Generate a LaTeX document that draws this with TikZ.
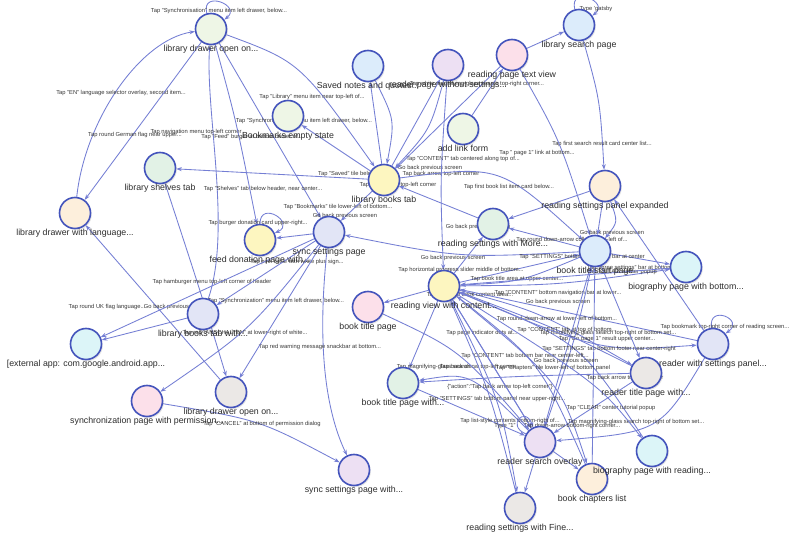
\documentclass[tikz,border=0pt]{standalone}
\usepackage{fontspec}
\setmainfont{Liberation Sans}
\usetikzlibrary{arrows.meta,shadows}
\pgfdeclarelayer{bg}
\pgfsetlayers{bg,main}
\definecolor{ec}{RGB}{116,126,212}
\definecolor{nb}{RGB}{68,84,188}
\definecolor{tc}{RGB}{45,45,45}
\definecolor{lc}{RGB}{55,55,55}
\definecolor{fgreen}{RGB}{238,246,230}
\definecolor{fgreen2}{RGB}{226,242,230}
\definecolor{fblue}{RGB}{220,236,251}
\definecolor{flav}{RGB}{237,224,243}
\definecolor{fpink}{RGB}{252,224,234}
\definecolor{forange}{RGB}{253,239,220}
\definecolor{fyellow}{RGB}{253,246,192}
\definecolor{fperi}{RGB}{226,229,246}
\definecolor{fcyan}{RGB}{220,245,248}
\definecolor{fgray}{RGB}{235,232,230}
\begin{document}
\begin{tikzpicture}[x=1pt,y=-1pt,
  st/.style={circle, draw=nb, line width=1.6pt, minimum size=31pt, inner sep=0pt,
    fill=#1, drop shadow={opacity=0.2,shadow xshift=1.3pt,shadow yshift=-1.6pt},
    label distance=4pt},
  nl/.style={font=\fontsize{8.8}{9.5}\selectfont, text=tc, inner sep=0pt},
  el/.style={font=\fontsize{5.8}{6.5}\selectfont, text=lc, inner sep=0pt},
  conn/.style={draw=ec, line width=0.85pt, -{Stealth[length=5.5pt,width=4pt]}}]
\useasboundingbox (0,0) rectangle (807,546);
% nodes
\node[st=fgreen, label={[nl]below:library drawer open on...}] (n1) at (211,29) {};
\node[st=fblue, label={[nl]below:Saved notes and quotes...}] (n2) at (368,66) {};
\node[st=flav, label={[nl]below:reader page without settings...}] (n3) at (448,65) {};
\node[st=fpink, label={[nl]below:reading page text view}] (n4) at (512,55) {};
\node[st=fblue, label={[nl]below:library search page}] (n5) at (579,25) {};
\node[st=fgreen, label={[nl]below:add link form}] (n6) at (463,129) {};
\node[st=fgreen, label={[nl]below:Bookmarks empty state}] (n7) at (288,116) {};
\node[st=fgreen2, label={[nl]below:library shelves tab}] (n8) at (160,168) {};
\node[st=forange, label={[nl]below:library drawer with language...}] (n9) at (75,213) {};
\node[st=fyellow, label={[nl]below:library books tab}] (n10) at (384,180) {};
\node[st=fyellow, label={[nl]below:feed donation page with...}] (n11) at (260,240) {};
\node[st=fperi, label={[nl]below:sync settings page}] (n12) at (329,232) {};
\node[st=fgreen2, label={[nl]below:reading settings with More...}] (n13) at (493,224) {};
\node[st=forange, label={[nl]below:reading settings panel expanded}] (n14) at (605,186) {};
\node[st=fblue, label={[nl]below:book title start page}] (n15) at (595,251) {};
\node[st=fcyan, label={[nl]below:biography page with bottom...}] (n16) at (686,267) {};
\node[st=fyellow, label={[nl]below:reading view with content...}] (n17) at (444,286) {};
\node[st=fpink, label={[nl]below:book title page}] (n18) at (368,307) {};
\node[st=fperi, label={[nl]below:library books tab with...}] (n19) at (203,314) {};
\node[st=fcyan, label={[nl]below:[external app: com.google.android.app...}] (n20) at (86,344) {};
\node[st=fgray, label={[nl]below:library drawer open on...}] (n21) at (231,392) {};
\node[st=fpink, label={[nl]below:synchronization page with permission...}] (n22) at (147,401) {};
\node[st=flav, label={[nl]below:sync settings page with...}] (n23) at (354,470) {};
\node[st=fgreen2, label={[nl]below:book title page with...}] (n24) at (403,383) {};
\node[st=flav, label={[nl]below:reader search overlay}] (n25) at (540,442) {};
\node[st=forange, label={[nl]below:book chapters list}] (n26) at (592,479) {};
\node[st=fcyan, label={[nl]below:biography page with reading...}] (n27) at (652,451) {};
\node[st=fgray, label={[nl]below:reader title page with...}] (n28) at (646,373) {};
\node[st=fperi, label={[nl]below:reader with settings panel...}] (n29) at (713,344) {};
\node[st=fgray, label={[nl]below:reading settings with Fine...}] (n30) at (520,508) {};
\begin{pgfonlayer}{bg}
\fill[white] (0,0) rectangle (807,546);
% top-left cluster
\draw[conn] (n1.105) .. controls +(-6,-24) and +(18,-14) .. (n1.35);
\node[el] at (219,11) {Tap "Synchronisation" menu item left drawer, below...};
\draw[conn] (n9) .. controls (85,120) and (140,40) .. (n1);
\node[el] at (121,93) {Tap "EN" language selector overlay, second item...};
\draw[conn] (n1) -- (n9);
\node[el] at (135,135) {Tap round German flag near upper...};
\draw[conn] (n19) .. controls (232,230) and (205,110) .. (n1);
\node[el] at (196,132) {Tap navigation menu top-left corner};
\draw[conn] (n1) .. controls (236,120) .. (n11);
\node[el] at (252,137) {Tap "Feed" burger at bottom center of...};
\draw[conn] (n1) .. controls (300,62) .. (n10);
\node[el] at (312,97) {Tap "Library" menu item near top-left of...};
\draw[conn] (n1) -- (n12);
\node[el] at (304,121) {Tap "Synchronisation" menu item left drawer, below...};
\draw[conn] (n10) -- (n8);
\node[el] at (263,189) {Tap "Shelves" tab below header, near center...};
\draw[conn] (n10) -- (n2);
\node[el] at (349,174) {Tap "Saved" tile below...};
\draw[conn] (n10) -- (n7);
\node[el] at (338,207) {Tap "Bookmarks" tile lower-left of bottom...};
\draw[conn] (n10) -- (n12);
\node[el] at (345,216) {Go back previous screen};
\draw[conn] (n11.90) .. controls +(0,-24) and +(22,-10) .. (n11.25);
\node[el] at (258,223) {Tap burger donation card upper-right...};
\draw[conn] (n12) -- (n11);
\node[el] at (297,262) {Tap pink circle with white plus sign...};
\draw[conn] (n8) .. controls (200,290) .. (n21);
\node[el] at (212,282) {Tap hamburger menu top-left corner of header};
\draw[conn] (n21) -- (n9);
\node[el] at (107,307) {Tap round UK flag language...};
\draw[conn] (n19) -- (n20);
\node[el] at (176,307) {Go back previous screen};
\draw[conn] (n12) -- (n19);
\node[el] at (276,301) {Tap "Synchronization" menu item left drawer, below...};
\draw[conn] (n12) .. controls (250,330) .. (n22);
\node[el] at (245,333) {Tap red "ANSCHALTEN" at lower-right of white...};
\draw[conn] (n12) .. controls (315,360) and (330,420) .. (n23);
\node[el] at (320,347) {Tap red warning message snackbar at bottom...};
\draw[conn] (n22) .. controls (260,420) .. (n23);
\node[el] at (262,424) {Tap "CANCEL" at bottom of permission dialog};
\draw[conn] (n12) -- (n20);
\draw[conn] (n12) -- (n21);
% top-right cluster
\draw[conn] (n10) -- (n3);
\node[el] at (463,159) {Tap "CONTENT" tab centered along top of...};
\draw[conn] (n3) .. controls (430,130) .. (n10);
\node[el] at (430,168) {Go back previous screen};
\draw[conn] (n4) -- (n10);
\node[el] at (441,174) {Tap back arrow top-left corner};
\draw[conn] (n2) .. controls (395,120) .. (n10);
\node[el] at (398,185) {Tap back arrow top-left corner};
\draw[conn] (n4) -- (n5);
\node[el] at (477,84) {Tap white magnifying-glass search top-right corner...};
\draw[conn] (n5.105) .. controls +(-6,-24) and +(18,-14) .. (n5.35);
\node[el] at (596,9) {Type 'gatsby};
\draw[conn] (n5) .. controls (600,100) .. (n14);
\node[el] at (602,144) {Tap first search result card center list...};
\draw[conn] (n4) .. controls (560,140) .. (n15);
\node[el] at (537,153) {Tap " page 1" link at bottom...};
\draw[conn] (n6) -- (n4);
\draw[conn] (n10) .. controls (500,165) .. (n15);
\node[el] at (509,187) {Tap first book list item card below...};
\draw[conn] (n3) .. controls (440,180) .. (n17);
% middle cluster
\draw[conn] (n14) .. controls (618,222) .. (n15);
\node[el] at (612,233) {Go back previous screen};
\draw[conn] (n14) -- (n15);
\draw[conn] (n15) -- (n13);
\node[el] at (572,240) {Tap round down-arrow collapse top-left of...};
\draw[conn] (n15) -- (n16);
\node[el] at (632,268) {Tap "three settings" bar at bottom...};
\draw[conn] (n17) .. controls (560,285) .. (n16);
\node[el] at (622,272) {Tap "CLEAR" center popup};
\draw[conn] (n13) -- (n10);
\node[el] at (478,227) {Go back previous screen};
\draw[conn] (n15) .. controls (460,258) .. (n12);
\node[el] at (453,258) {Go back previous screen};
\draw[conn] (n17) -- (n15);
\node[el] at (582,257) {Tap "SETTINGS" bottom navigation bar at center};
\draw[conn] (n15) .. controls (520,282) .. (n17);
\node[el] at (517,279) {Tap book title area at upper center...};
\draw[conn] (n16) -- (n17);
\node[el] at (558,293) {Tap "CONTENT" bottom navigation bar at lower...};
\draw[conn] (n17) .. controls (540,312) .. (n28);
\node[el] at (470,295) {Tap center of book content area...};
\draw[conn] (n29) -- (n17);
\node[el] at (558,302) {Go back previous screen};
\draw[conn] (n17) -- (n13);
\node[el] at (461,270) {Tap horizontal progress slider middle of bottom...};
\draw[conn] (n28) .. controls (560,330) .. (n17);
\node[el] at (557,319) {Tap round-down-arrow at lower-left of bottom...};
\draw[conn] (n25) -- (n17);
\node[el] at (482,333) {Tap page indicator dots at...};
\draw[conn] (n27) .. controls (580,342) .. (n17);
\node[el] at (567,330) {Tap "CONTENT" tab at top of bottom...};
\draw[conn] (n15) -- (n25);
\node[el] at (608,333) {Tap magnifying-glass search top-right of bottom set...};
\draw[conn] (n25) .. controls (575,340) .. (n15);
\node[el] at (607,339) {Tap "Go page 1" result upper center...};
\draw[conn] (n17) .. controls (600,352) .. (n29);
\node[el] at (609,349) {Tap "SETTINGS" tab bottom footer near center-right};
\draw[conn] (n26) .. controls (540,362) .. (n17);
\node[el] at (525,356) {Tap "CONTENT" tab bottom bar near center-left...};
\draw[conn] (n26) -- (n15);
\node[el] at (566,361) {Go back previous screen};
\draw[conn] (n17) .. controls (560,382) .. (n26);
\node[el] at (553,368) {Tap "Chapters" tile lower-left of bottom panel};
% lower cluster
\draw[conn] (n17) -- (n24);
\node[el] at (436,367) {Tap magnifying-glass search...};
\draw[conn] (n25) .. controls (470,372) .. (n24);
\node[el] at (478,367) {Tap back arrow top-left corner};
\draw[conn] (n30) .. controls (490,392) .. (n17);
\node[el] at (500,387) {\{"action":"Tap back arrow top-left corner"\}};
\draw[conn] (n24) -- (n25);
\node[el] at (497,399) {Tap "SETTINGS" tab bottom panel near upper-right...};
\draw[conn] (n28) .. controls (520,376) .. (n24);
\node[el] at (625,378) {Tap back arrow top-left corner};
\draw[conn] (n28) -- (n25);
\node[el] at (611,408) {Tap "CLEAR" center tutorial popup};
\draw[conn] (n29) .. controls (660,432) .. (n25);
\node[el] at (636,422) {Tap magnifying-glass search top-right of bottom set...};
\draw[conn] (n17) -- (n25);
\node[el] at (510,421) {Tap list-style contents bottom-right of...};
\draw[conn] (n25.150) .. controls +(-20,-8) and +(-8,-22) .. (n25.115);
\node[el] at (505,426) {Type "1"};
\draw[conn] (n25) -- (n26);
\node[el] at (572,426) {Tap down-arrow bottom-right corner...};
\draw[conn] (n29.95) .. controls +(-4,-24) and +(20,-14) .. (n29.40);
\node[el] at (725,327) {Tap bookmark top-right corner of reading screen...};
\draw[conn] (n29) -- (n14);
\draw[conn] (n17) .. controls (500,400) .. (n30);
\draw[conn] (n25) -- (n30);
\draw[conn] (n17) -- (n18);
\draw[conn] (n18) .. controls (460,350) .. (n25);
\draw[conn] (n17) .. controls (600,385) .. (n27);
\draw[conn] (n15) -- (n28);
\draw[conn] (n14) -- (n13);
\end{pgfonlayer}
\end{tikzpicture}
\end{document}
